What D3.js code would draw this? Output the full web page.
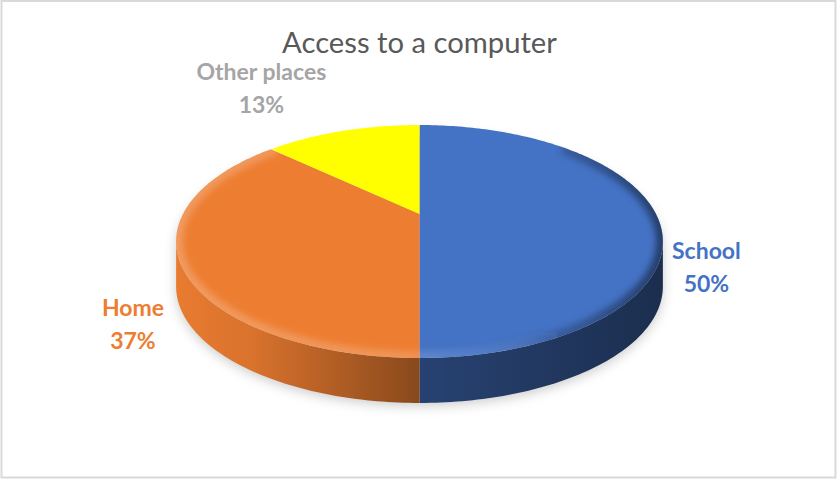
<!DOCTYPE html>
<html>
<head>
<meta charset="utf-8">
<script src="https://cdn.jsdelivr.net/npm/d3@7"></script>
<style>
  html, body { margin: 0; padding: 0; background: #ffffff; }
  svg { display: block; }
</style>
</head>
<body>
<svg id="chart" width="837" height="479"></svg>
<script>
// Chart data
const categories = ["School", "Home", "Other places"];
const values = [50, 37, 13];
const sliceColors = ["#4472c4", "#ed7d31", "#ffff00"];
const labelColors = ["#4472c4", "#ed7d31", "#a5a5a5"];
const titleText = "Access to a computer";

// Layout of the tilted disc
const W = 837, H = 479;
const cx = 419.5, cy = 214;     // projected centre of the top face
const rx = 236.5, ry = 110;     // horizontal / vertical projection scale
const persp = 0.236;            // perspective foreshortening of the far side
const depth = 45;               // thickness of the disc in pixels

const svg = d3.select("#chart");
const defs = svg.append("defs");

// background + frame
svg.append("rect").attr("x", 0).attr("y", 0).attr("width", W).attr("height", H).attr("fill", "#fff");
svg.append("rect").attr("x", 1.5).attr("y", 1).attr("width", W - 3).attr("height", H - 2.5)
  .attr("fill", "none").attr("stroke", "#d9d9d9").attr("stroke-width", 2);

const data = categories.map((c, i) => ({ category: c, value: values[i], color: sliceColors[i], labelColor: labelColors[i] }));
const total = d3.sum(values);
const pct = d3.format(".0%");

const pie = d3.pie().sort(null).value(d => d.value);
const arcs = pie(data);

// project a point on the disc (angle clockwise from 12 o'clock, radius r) to the screen
function proj(theta, r) {
  const X = r * Math.sin(theta), Z = r * Math.cos(theta);
  const w = 1 + persp * Z;
  return [cx + rx * X / w, cy - ry * Z / w];
}
function arcPts(a0, a1, r, dy) {
  const n = Math.max(2, Math.ceil(Math.abs(a1 - a0) / (Math.PI / 180)));
  return d3.range(n + 1).map(i => {
    const t = a0 + (a1 - a0) * i / n;
    const p = proj(t, r);
    return [p[0], p[1] + dy];
  });
}
const line = d3.line();

// silhouette angles of the projected rim
const sil1 = Math.acos(-persp), sil2 = 2 * Math.PI - sil1;

// filters
const blur = defs.append("filter").attr("id", "shadowBlur").attr("x", "-20%").attr("y", "-20%").attr("width", "140%").attr("height", "160%");
blur.append("feGaussianBlur").attr("stdDeviation", 6);
const soft = defs.append("filter").attr("id", "softBlur").attr("x", "-10%").attr("y", "-10%").attr("width", "120%").attr("height", "120%");
soft.append("feGaussianBlur").attr("stdDeviation", 3);

// drop shadow under the disc
const shadowPts = arcPts(sil1, sil2, 1.0, depth + 3).concat(arcPts(sil2, sil1 + 2 * Math.PI, 1.0, 0).map(p => [p[0], p[1] + 8]));
svg.append("path")
  .attr("d", line(shadowPts) + "Z")
  .attr("fill", "rgba(0,0,0,0.2)")
  .attr("filter", "url(#shadowBlur)");

// side wall shading, light on the left and dark on the right
const shade = d3.scaleLinear().domain([0, 0.15, 0.5, 1]).range([0.98, 0.92, 0.58, 0.4]);
arcs.forEach((a, i) => {
  const g = defs.append("linearGradient").attr("id", "side" + i)
    .attr("gradientUnits", "userSpaceOnUse")
    .attr("x1", cx - rx * 1.03).attr("x2", cx + rx * 1.03).attr("y1", 0).attr("y2", 0);
  const base = d3.rgb(a.data.color);
  [0, 0.15, 0.3, 0.5, 0.7, 0.85, 1].forEach(o => {
    const f = shade(o);
    g.append("stop").attr("offset", o).attr("stop-color", d3.rgb(base.r * f, base.g * f, base.b * f).formatHex());
  });
});

// visible side walls
const sides = svg.append("g");
arcs.forEach((a, i) => {
  const s = Math.max(a.startAngle, sil1), e = Math.min(a.endAngle, sil2);
  if (s >= e) return;
  const pts = arcPts(s, e, 1, 0).concat(arcPts(e, s, 1, depth));
  sides.append("path").attr("d", line(pts) + "Z").attr("fill", "url(#side" + i + ")");
});

// top faces
const tops = svg.append("g");
arcs.forEach(a => {
  const pts = [[cx, cy]].concat(arcPts(a.startAngle, a.endAngle, 1, 0));
  tops.append("path").attr("d", line(pts) + "Z").attr("fill", a.data.color);
});

// rounded bevel along the front rim of the top face
const topOutline = line(arcPts(0, 2 * Math.PI, 1, 0)) + "Z";
defs.append("clipPath").attr("id", "topClip").append("path").attr("d", topOutline);
const bevel = defs.append("linearGradient").attr("id", "bevel")
  .attr("gradientUnits", "userSpaceOnUse")
  .attr("x1", cx - rx * 1.03).attr("x2", cx + rx * 1.03).attr("y1", 0).attr("y2", 0);
[[0, "#ffffff", 0.22], [0.45, "#ffffff", 0.18], [0.6, "#ffffff", 0.08], [0.8, "#000000", 0.2], [1, "#000000", 0.45]]
  .forEach(([o, c, op]) => bevel.append("stop").attr("offset", o).attr("stop-color", c).attr("stop-opacity", op));
svg.append("g").attr("clip-path", "url(#topClip)")
  .append("path")
  .attr("d", line(arcPts(Math.PI * 0.25, Math.PI * 1.75, 1, 0)))
  .attr("fill", "none")
  .attr("stroke", "url(#bevel)")
  .attr("stroke-width", 14)
  .attr("filter", "url(#softBlur)");

// data labels placed just outside the rim at each slice's mid angle
const labelFont = "Lato, 'Open Sans', sans-serif";
const labelSize = 23, lineGap = 33, capH = 16.5, gap = 16;
arcs.forEach(a => {
  const mid = (a.startAngle + a.endAngle) / 2;
  const rim = proj(mid, 1);
  const ay = rim[1] + depth / 2 * (1 - Math.cos(mid));
  const g = svg.append("g")
    .attr("font-family", labelFont).attr("font-weight", 700).attr("font-size", labelSize)
    .attr("fill", a.data.labelColor).attr("text-anchor", "middle");
  const t1 = g.append("text").text(a.data.category);
  const t2 = g.append("text").text(pct(a.data.value / total));
  const wBox = Math.max(t1.node().getComputedTextLength(), t2.node().getComputedTextLength());
  const xc = rim[0] > cx ? rim[0] + gap + wBox / 2 : rim[0] - gap - wBox / 2;
  const b1 = ay < cy ? ay - 20 - lineGap : ay + 6 + capH;
  t1.attr("x", xc).attr("y", b1);
  t2.attr("x", xc).attr("y", b1 + lineGap);
});

// title, sized to its measured width
const title = svg.append("text")
  .attr("x", cx).attr("y", 53)
  .attr("text-anchor", "middle")
  .attr("font-family", "Lato, 'Open Sans', sans-serif")
  .attr("font-size", 100)
  .attr("fill", "#595959")
  .text(titleText);
const tw = title.node().getComputedTextLength();
title.attr("font-size", 100 * 275 / tw);
</script>
</body>
</html>
